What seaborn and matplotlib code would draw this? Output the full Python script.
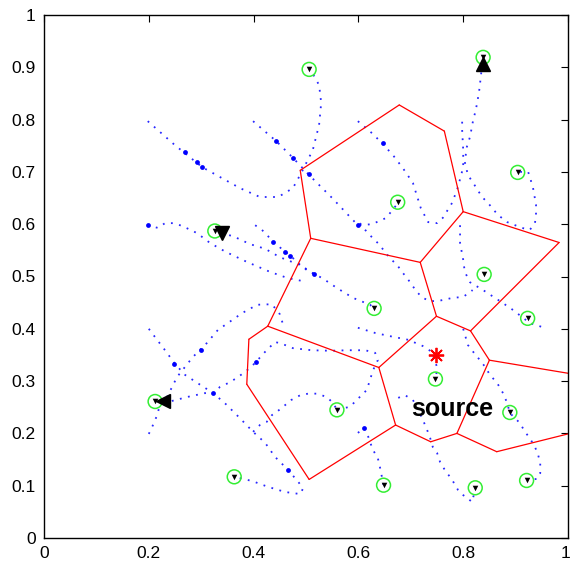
import seaborn as sns
import matplotlib.pyplot as plt
import matplotlib.transforms as mtransforms
import pandas as pd

# voronoi vertices (partition around the final positions)
VX = {'A': (0.489, 0.703), 'B': (0.678, 0.828), 'C': (0.764, 0.778), 'D': (0.800, 0.624),
      'E': (0.983, 0.565), 'F': (0.718, 0.527), 'G': (0.509, 0.573), 'H': (0.749, 0.424),
      'I': (0.814, 0.396), 'J': (0.639, 0.326), 'K': (0.850, 0.340), 'L': (1.000, 0.315),
      'M': (0.671, 0.216), 'N': (0.738, 0.184), 'O': (0.788, 0.200), 'P': (0.864, 0.165),
      'Q': (1.000, 0.199), 'R': (0.427, 0.405), 'S': (0.391, 0.380), 'T': (0.387, 0.294),
      'U': (0.506, 0.112)}
EDGES = ['AB', 'BC', 'CD', 'DE', 'DF', 'FG', 'GA', 'GR', 'FH', 'HI', 'HJ', 'IE', 'IK',
         'KL', 'KO', 'ON', 'OP', 'PQ', 'NM', 'MJ', 'JR', 'RS', 'ST', 'TU', 'UM']

# robot trajectories
TRACKS = [
    [(0.198, 0.797), (0.250, 0.751), (0.302, 0.709), (0.374, 0.669), (0.412, 0.652), (0.447, 0.652),
     (0.475, 0.669), (0.492, 0.700), (0.513, 0.742), (0.525, 0.790), (0.529, 0.832), (0.525, 0.866),
     (0.510, 0.893)],
    [(0.399, 0.797), (0.443, 0.759), (0.475, 0.727), (0.506, 0.694), (0.550, 0.650), (0.599, 0.598),
     (0.626, 0.600), (0.653, 0.612), (0.676, 0.641)],
    [(0.599, 0.797), (0.626, 0.774), (0.645, 0.755), (0.666, 0.732), (0.685, 0.707), (0.704, 0.679),
     (0.719, 0.631), (0.733, 0.604), (0.750, 0.602), (0.761, 0.612), (0.779, 0.641), (0.790, 0.671),
     (0.800, 0.709), (0.800, 0.742), (0.798, 0.780), (0.798, 0.799)],
    [(0.836, 0.906), (0.834, 0.885), (0.830, 0.851), (0.824, 0.818), (0.819, 0.799), (0.813, 0.767),
     (0.807, 0.748), (0.803, 0.719), (0.809, 0.694), (0.819, 0.679), (0.836, 0.652), (0.847, 0.641),
     (0.866, 0.618), (0.884, 0.604), (0.912, 0.593), (0.927, 0.589), (0.937, 0.602), (0.939, 0.621),
     (0.939, 0.637), (0.933, 0.671), (0.924, 0.700), (0.904, 0.700)],
    [(0.794, 0.598), (0.794, 0.564), (0.800, 0.532), (0.803, 0.509), (0.813, 0.489), (0.838, 0.474),
     (0.876, 0.449), (0.895, 0.436), (0.927, 0.411), (0.952, 0.403)],
    [(0.603, 0.602), (0.613, 0.589), (0.622, 0.579), (0.637, 0.564), (0.651, 0.547), (0.660, 0.535),
     (0.674, 0.522), (0.683, 0.509), (0.693, 0.497), (0.702, 0.484), (0.712, 0.470), (0.723, 0.459),
     (0.737, 0.453), (0.750, 0.453), (0.761, 0.455), (0.779, 0.459), (0.800, 0.461), (0.818, 0.474)],
    [(0.198, 0.598), (0.217, 0.593), (0.231, 0.602), (0.246, 0.602), (0.263, 0.597), (0.292, 0.583),
     (0.317, 0.564), (0.347, 0.547), (0.387, 0.528), (0.431, 0.509), (0.465, 0.497), (0.500, 0.490)],
    [(0.338, 0.583), (0.361, 0.577), (0.393, 0.562), (0.422, 0.553), (0.450, 0.537), (0.473, 0.528),
     (0.489, 0.522), (0.515, 0.505), (0.531, 0.497), (0.559, 0.478), (0.590, 0.459), (0.622, 0.446),
     (0.630, 0.440)],
    [(0.403, 0.598), (0.416, 0.589), (0.426, 0.579), (0.437, 0.566), (0.450, 0.556), (0.460, 0.547),
     (0.469, 0.541), (0.489, 0.522), (0.502, 0.512), (0.515, 0.505)],
    [(0.244, 0.262), (0.275, 0.270), (0.307, 0.277), (0.323, 0.277), (0.336, 0.289), (0.351, 0.296),
     (0.368, 0.306), (0.380, 0.315), (0.393, 0.325), (0.403, 0.335), (0.422, 0.356), (0.441, 0.375),
     (0.460, 0.369), (0.475, 0.363), (0.511, 0.359), (0.546, 0.358), (0.580, 0.359), (0.613, 0.359),
     (0.632, 0.354), (0.637, 0.340), (0.628, 0.321), (0.622, 0.302), (0.616, 0.283), (0.603, 0.270),
     (0.584, 0.251), (0.559, 0.245)],
    [(0.200, 0.400), (0.212, 0.384), (0.231, 0.359), (0.250, 0.333), (0.269, 0.312), (0.298, 0.293),
     (0.323, 0.277), (0.347, 0.256), (0.374, 0.229), (0.399, 0.203), (0.422, 0.182), (0.441, 0.155),
     (0.466, 0.130), (0.487, 0.105), (0.494, 0.094), (0.489, 0.084), (0.460, 0.088), (0.427, 0.098),
     (0.397, 0.109), (0.363, 0.117)],
    [(0.200, 0.199), (0.208, 0.216), (0.216, 0.235), (0.221, 0.254), (0.235, 0.270), (0.254, 0.308),
     (0.269, 0.327), (0.284, 0.346), (0.311, 0.373), (0.332, 0.398), (0.351, 0.411), (0.378, 0.430),
     (0.407, 0.446), (0.435, 0.447), (0.450, 0.428), (0.456, 0.409)],
    [(0.599, 0.402), (0.632, 0.392), (0.660, 0.386), (0.695, 0.379), (0.723, 0.367), (0.740, 0.356),
     (0.750, 0.327), (0.748, 0.304)],
    [(0.599, 0.201), (0.611, 0.210), (0.616, 0.202), (0.622, 0.184), (0.628, 0.168), (0.637, 0.153),
     (0.641, 0.136), (0.648, 0.101)],
    [(0.800, 0.400), (0.809, 0.369), (0.819, 0.356), (0.832, 0.340), (0.842, 0.327), (0.851, 0.312),
     (0.865, 0.296), (0.876, 0.277), (0.884, 0.258), (0.889, 0.239), (0.908, 0.220), (0.918, 0.203),
     (0.927, 0.191), (0.937, 0.174), (0.943, 0.159), (0.947, 0.143), (0.947, 0.124), (0.941, 0.113),
     (0.922, 0.111)],
    [(0.676, 0.268), (0.689, 0.273), (0.704, 0.264), (0.714, 0.245), (0.723, 0.226), (0.731, 0.207),
     (0.737, 0.191), (0.742, 0.174), (0.750, 0.163), (0.756, 0.145), (0.765, 0.130), (0.779, 0.111),
     (0.790, 0.092), (0.800, 0.082), (0.817, 0.069), (0.823, 0.094)],
    [(0.399, 0.203), (0.412, 0.216), (0.425, 0.222), (0.435, 0.235), (0.444, 0.241), (0.460, 0.254),
     (0.472, 0.264), (0.489, 0.273), (0.504, 0.276), (0.520, 0.276), (0.539, 0.270), (0.552, 0.258),
     (0.559, 0.245)],
]

# heavier sample dots along the tracks
DOT_X = [0.269, 0.292, 0.302, 0.443, 0.475, 0.506, 0.198, 0.437, 0.460, 0.469, 0.515,
         0.300, 0.248, 0.405, 0.323, 0.466, 0.647, 0.599, 0.611]
DOT_Y = [0.738, 0.719, 0.709, 0.759, 0.727, 0.696, 0.598, 0.566, 0.547, 0.539, 0.505,
         0.359, 0.333, 0.337, 0.277, 0.130, 0.755, 0.598, 0.210]

# final positions
END_X = [0.506, 0.838, 0.675, 0.904, 0.326, 0.840, 0.630, 0.923,
         0.747, 0.212, 0.559, 0.889, 0.363, 0.648, 0.823, 0.921]
END_Y = [0.896, 0.919, 0.642, 0.699, 0.587, 0.504, 0.439, 0.420,
         0.304, 0.261, 0.245, 0.240, 0.117, 0.101, 0.096, 0.110]

# leaders (large triangles)
LEAD_X = [0.837, 0.339, 0.228]
LEAD_Y = [0.906, 0.583, 0.261]
LEAD_M = ['^', 'v', '<']

SOURCE = (0.748, 0.350)

sns.set_theme(style='white')
plt.rcParams['font.family'] = ['Liberation Sans', 'DejaVu Sans']

fig = plt.figure(figsize=(5.7, 5.65), dpi=100, facecolor='white')
ax = fig.add_axes([44 / 570, 27 / 565, 524 / 570, 523 / 565])

rows = []
for i, tr in enumerate(TRACKS):
    for j, (x, y) in enumerate(tr):
        rows.append({'track': i, 'k': j, 'x': x, 'y': y})
trk = pd.DataFrame(rows)
sns.lineplot(data=trk, x='x', y='y', units='track', estimator=None, sort=False,
             color='#1010ff', lw=1.3, linestyle=(0, (1, 3.6)), alpha=0.9, ax=ax)
sns.scatterplot(x=DOT_X, y=DOT_Y, color='#0000ff', s=12, linewidth=0, ax=ax, zorder=3)

erows = []
for e in EDGES:
    for v in e:
        erows.append({'edge': e, 'x': VX[v][0], 'y': VX[v][1]})
edf = pd.DataFrame(erows)
sns.lineplot(data=edf, x='x', y='y', units='edge', estimator=None, sort=False,
             color='red', lw=0.9, ax=ax)

ax.scatter(END_X, END_Y, s=100, facecolors='none', edgecolors='#33ee33', linewidths=1.1, zorder=4)
sns.scatterplot(x=END_X, y=END_Y, color='black', marker='v', s=16, linewidth=0, ax=ax, zorder=5)
for x, y, m in zip(LEAD_X, LEAD_Y, LEAD_M):
    ax.plot(x, y, marker=m, ms=10.5, color='black', zorder=5)

ax.plot(*SOURCE, marker=(8, 2, 0), ms=11, mew=1.3, color='red', zorder=6)
ax.text(0.700, 0.247, 'source', fontsize=18, fontweight='bold', va='center',
        color='black', zorder=7)

ax.set_xlim(0, 1)
ax.set_ylim(0, 1)
ax.set_xticks([0, 0.2, 0.4, 0.6, 0.8, 1])
ax.set_xticklabels(['0', '0.2', '0.4', '0.6', '0.8', '1'])
ax.set_yticks([i / 10 for i in range(11)])
ax.set_yticklabels(['0'] + [f'0.{i}' for i in range(1, 10)] + ['1'])
ax.set_xlabel('')
ax.set_ylabel('')
ax.tick_params(direction='in', top=True, right=True, length=5, width=0.8,
               labelsize=12.5, colors='black', pad=6)
for sp in ax.spines.values():
    sp.set_edgecolor('black')
    sp.set_linewidth(1.0)

# keep the last x label inside the canvas
last = ax.get_xticklabels()[-1]
last.set_transform(last.get_transform() + mtransforms.ScaledTranslation(-3 / 100, 0, fig.dpi_scale_trans))

fig.savefig('out.png', dpi=100, facecolor='white')
